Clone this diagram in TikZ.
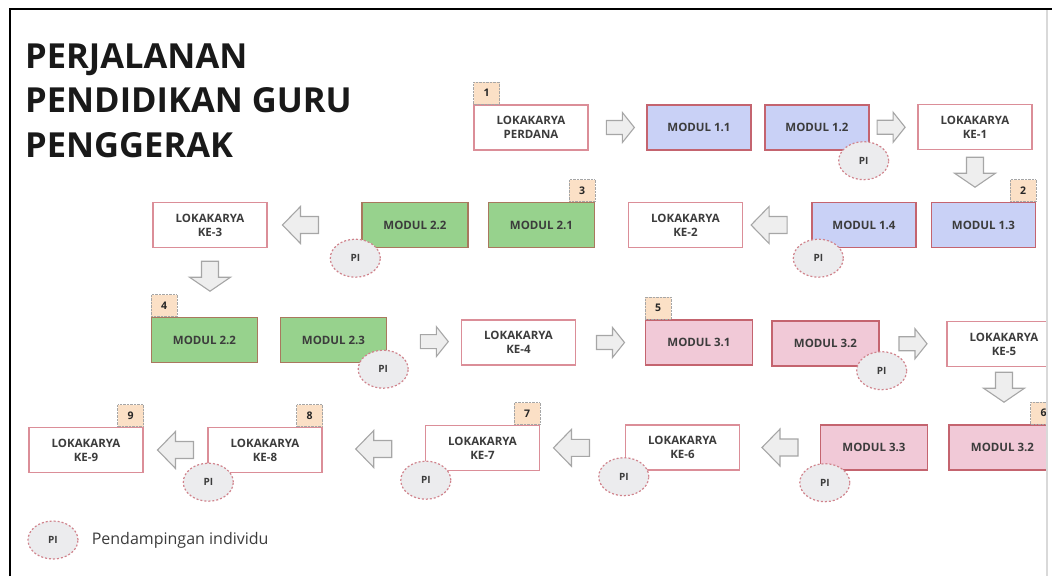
\documentclass[tikz,border=0pt]{standalone}
\usepackage{fontspec}
\setmainfont{Open Sans}
\usetikzlibrary{calc,positioning,shapes.geometric}
\definecolor{lokared}{HTML}{DB8E98}
\definecolor{modred}{HTML}{C4646F}
\definecolor{modbrown}{HTML}{A9785E}
\definecolor{blueA}{HTML}{C9D1F6}
\definecolor{greenA}{HTML}{97D28D}
\definecolor{pinkA}{HTML}{F1C9D7}
\definecolor{tagfill}{HTML}{FBE0C6}
\definecolor{pifill}{HTML}{ECECEE}
\definecolor{arrfill}{HTML}{EEEEEE}
\definecolor{arrdraw}{HTML}{A6A6A6}
\definecolor{txt}{HTML}{3C3C3C}
\tikzset{
  box/.style={draw,rectangle,line width=1.4pt,minimum height=45pt,inner sep=0pt,align=center,text=txt,font=\fontsize{11.5}{14}\selectfont\bfseries},
  loka/.style={box,draw=lokared,fill=white,minimum width=114pt},
  modA/.style={box,draw=modred,fill=blueA,minimum width=104pt},
  modB/.style={box,draw=modbrown,fill=greenA,minimum width=106pt},
  modC/.style={box,draw=modred,fill=pinkA,minimum width=107pt},
  tag/.style={draw=arrdraw,densely dotted,fill=tagfill,minimum width=26pt,minimum height=22pt,inner sep=0pt,text=black!85,font=\fontsize{10.5}{10.5}\selectfont\bfseries},
  pibubble/.style={ellipse,draw=modred!80,dash pattern=on 2pt off 2pt,line width=1.2pt,fill=pifill,minimum width=50pt,minimum height=38pt,inner sep=0pt,text=txt,font=\fontsize{10}{10}\selectfont\bfseries},
  arrowbody/.style={draw=arrdraw,fill=arrfill,line width=1.1pt,line join=miter},
  rarr/.pic={\draw[arrowbody] (-14,-7) -- (2,-7) -- (2,-15) -- (14,0) -- (2,15) -- (2,7) -- (-14,7) -- cycle;},
  larr/.pic={\draw[arrowbody] (18,-8.5) -- (0,-8.5) -- (0,-18.5) -- (-18,0) -- (0,18.5) -- (0,8.5) -- (18,8.5) -- cycle;},
  darr/.pic={\draw[arrowbody] (-8.5,-15) -- (-8.5,1) -- (-20.5,1) -- (0,15) -- (20.5,1) -- (8.5,1) -- (8.5,-15) -- cycle;}
}
\begin{document}
\begin{tikzpicture}[x=1pt,y=-1pt]
  \useasboundingbox (0,0) rectangle (1052,576);
  \begin{scope}
  \clip (0,0) rectangle (1046,576);
  \node[anchor=base west,inner sep=0pt,font=\fontsize{34.5}{40}\selectfont\bfseries,text=black!90] (title1) at (25,68) {PERJALANAN};
  \node[anchor=base west,inner sep=0pt,font=\fontsize{34.5}{40}\selectfont\bfseries,text=black!90] (title2) at (25,112.5) {PENDIDIKAN GURU};
  \node[anchor=base west,inner sep=0pt,font=\fontsize{34.5}{40}\selectfont\bfseries,text=black!90] (title3) at (25,157) {PENGGERAK};

  \node[loka] (perdana) at (531,127.5) {LOKAKARYA\\PERDANA};
  \node[modA] (m11) at (699,127.5) {MODUL 1.1};
  \node[modA] (m12) at (817,127.5) {MODUL 1.2};
  \node[loka] (ke1) at (975,127) {LOKAKARYA\\KE-1};

  \node[modA] (m13) at (983.5,225) {MODUL 1.3};
  \node[modA] (m14) at (864,225) {MODUL 1.4};
  \node[loka] (ke2) at (685.5,225) {LOKAKARYA\\KE-2};
  \node[modB] (m21) at (541.5,225) {MODUL 2.1};
  \node[modB] (m22a) at (415,225) {MODUL 2.2};
  \node[loka] (ke3) at (210,225) {LOKAKARYA\\KE-3};

  \node[modB] (m22b) at (204.5,340) {MODUL 2.2};
  \node[modB] (m23) at (333.5,340) {MODUL 2.3};
  \node[loka] (ke4) at (518.5,342.5) {LOKAKARYA\\KE-4};
  \node[modC] (m31) at (699,342.5) {MODUL 3.1};
  \node[modC] (m32a) at (825.5,343.5) {MODUL 3.2};
  \node[loka] (ke5) at (1004,344) {LOKAKARYA\\KE-5};

  \node[modC] (m32b) at (1002.5,447.5) {MODUL 3.2};
  \node[modC] (m33) at (874,447.5) {MODUL 3.3};
  \node[loka] (ke6) at (682.5,447.5) {LOKAKARYA\\KE-6};
  \node[loka] (ke7) at (482.5,448) {LOKAKARYA\\KE-7};
  \node[loka] (ke8) at (265,450) {LOKAKARYA\\KE-8};
  \node[loka] (ke9) at (86,450) {LOKAKARYA\\KE-9};

  \node[tag,above right=0pt of perdana.north west] (t1) {1};
  \node[tag,above left=0pt of m13.north east] (t2) {2};
  \node[tag,above left=0pt of m21.north east] (t3) {3};
  \node[tag,above right=0pt of m22b.north west] (t4) {4};
  \node[tag,above right=0pt of m31.north west] (t5) {5};
  \node[tag,above left=0pt of m32b.north east] (t6) {6};
  \node[tag,above left=0pt of ke7.north east] (t7) {7};
  \node[tag,above left=0pt of ke8.north east] (t8) {8};
  \node[tag,above left=0pt of ke9.north east] (t9) {9};

  \node[pibubble] (pi1) at ($(m12.south east)+(-6,10)$) {PI};
  \node[pibubble] (pi2) at ($(m14.south west)+(7,10)$) {PI};
  \node[pibubble] (pi3) at ($(m22a.south west)+(-6,10)$) {PI};
  \node[pibubble] (pi4) at ($(m23.south east)+(-4,6)$) {PI};
  \node[pibubble] (pi5) at ($(m32a.south east)+(2,4)$) {PI};
  \node[pibubble] (pi6) at ($(m33.south west)+(5,12)$) {PI};
  \node[pibubble] (pi7) at ($(ke6.south west)+(-1,6)$) {PI};
  \node[pibubble] (pi8) at ($(ke7.south west)+(1,9)$) {PI};
  \node[pibubble] (pi9) at ($(ke8.south west)+(1,9)$) {PI};

  \pic (a1) at ($(perdana.east)!0.55!(m11.west)$) {rarr};
  \pic (a2) at ($(m12.east)!0.45!(ke1.west)$) {rarr};
  \pic (a3) at ($(ke1.south)+(0,22)$) {darr};
  \pic (a4) at ($(ke2.east)!0.38!(m14.west)$) {larr};
  \pic (a5) at ($(ke3.east)!0.35!(m22a.west)$) {larr};
  \pic (a6) at ($(ke3.south)+(0,28)$) {darr};
  \pic (a7) at ($(m23.east)!0.64!(ke4.west)$) {rarr};
  \pic (a8) at ($(ke4.east)!0.5!(m31.west)$) {rarr};
  \pic (a9) at ($(m32a.east)!0.5!(ke5.west)$) {rarr};
  \pic (a10) at ($(ke5.south)+(0,20)$) {darr};
  \pic (a11) at ($(m33.west)!0.5!(ke6.east)$) {larr};
  \pic (a12) at ($(ke6.west)!0.63!(ke7.east)$) {larr};
  \pic (a13) at ($(ke7.west)!0.5!(ke8.east)$) {larr};
  \pic (a14) at ($(ke8.west)!0.5!(ke9.east)$) {larr};

  \node[pibubble] (pileg) at (53,540) {PI};
  \node[right=13pt of pileg,inner sep=0pt,text=txt,font=\fontsize{16}{16}\selectfont] (legtxt) {Pendampingan individu};
  \end{scope}
  \draw[line width=2pt] (10,576) -- (10,9) -- (1052,9);
  \draw[black!15,line width=2.5pt] (1047,10) -- (1047,576);
\end{tikzpicture}
\end{document}
